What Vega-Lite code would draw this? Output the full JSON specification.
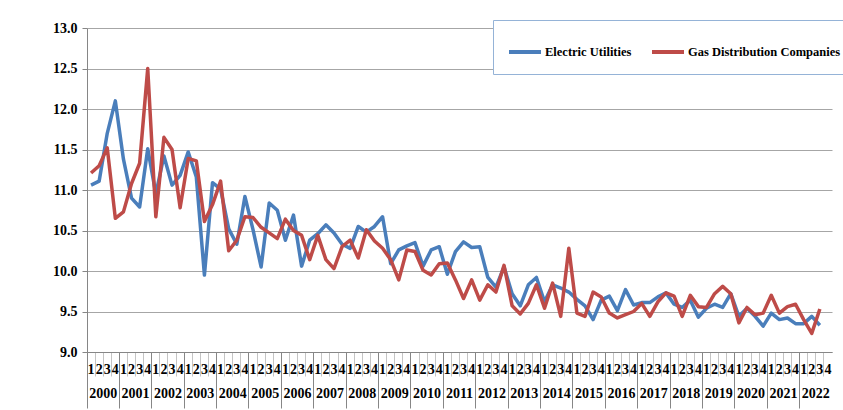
{
  "$schema": "https://vega.github.io/schema/vega-lite/v6.json",
  "width": 745,
  "height": 324,
  "autosize": {"type": "none"},
  "padding": {"left": 87, "top": 28, "right": 11, "bottom": 58},
  "background": "white",
  "config": {"view": {"stroke": null}, "font": "Liberation Serif"},
  "data": {"values": [
    {"k":"2000-1","Electric Utilities":11.06,"Gas Distribution Companies":11.21},
    {"k":"2000-2","Electric Utilities":11.11,"Gas Distribution Companies":11.30},
    {"k":"2000-3","Electric Utilities":11.70,"Gas Distribution Companies":11.52},
    {"k":"2000-4","Electric Utilities":12.10,"Gas Distribution Companies":10.65},
    {"k":"2001-1","Electric Utilities":11.38,"Gas Distribution Companies":10.73},
    {"k":"2001-2","Electric Utilities":10.90,"Gas Distribution Companies":11.08},
    {"k":"2001-3","Electric Utilities":10.79,"Gas Distribution Companies":11.33},
    {"k":"2001-4","Electric Utilities":11.51,"Gas Distribution Companies":12.50},
    {"k":"2002-1","Electric Utilities":10.95,"Gas Distribution Companies":10.67},
    {"k":"2002-2","Electric Utilities":11.42,"Gas Distribution Companies":11.65},
    {"k":"2002-3","Electric Utilities":11.06,"Gas Distribution Companies":11.50},
    {"k":"2002-4","Electric Utilities":11.18,"Gas Distribution Companies":10.78},
    {"k":"2003-1","Electric Utilities":11.47,"Gas Distribution Companies":11.39},
    {"k":"2003-2","Electric Utilities":11.16,"Gas Distribution Companies":11.36},
    {"k":"2003-3","Electric Utilities":9.95,"Gas Distribution Companies":10.61},
    {"k":"2003-4","Electric Utilities":11.09,"Gas Distribution Companies":10.82},
    {"k":"2004-1","Electric Utilities":11.01,"Gas Distribution Companies":11.11},
    {"k":"2004-2","Electric Utilities":10.52,"Gas Distribution Companies":10.25},
    {"k":"2004-3","Electric Utilities":10.33,"Gas Distribution Companies":10.38},
    {"k":"2004-4","Electric Utilities":10.92,"Gas Distribution Companies":10.67},
    {"k":"2005-1","Electric Utilities":10.51,"Gas Distribution Companies":10.66},
    {"k":"2005-2","Electric Utilities":10.05,"Gas Distribution Companies":10.54},
    {"k":"2005-3","Electric Utilities":10.84,"Gas Distribution Companies":10.47},
    {"k":"2005-4","Electric Utilities":10.75,"Gas Distribution Companies":10.40},
    {"k":"2006-1","Electric Utilities":10.38,"Gas Distribution Companies":10.64},
    {"k":"2006-2","Electric Utilities":10.69,"Gas Distribution Companies":10.50},
    {"k":"2006-3","Electric Utilities":10.06,"Gas Distribution Companies":10.44},
    {"k":"2006-4","Electric Utilities":10.38,"Gas Distribution Companies":10.14},
    {"k":"2007-1","Electric Utilities":10.46,"Gas Distribution Companies":10.44},
    {"k":"2007-2","Electric Utilities":10.57,"Gas Distribution Companies":10.14},
    {"k":"2007-3","Electric Utilities":10.47,"Gas Distribution Companies":10.03},
    {"k":"2007-4","Electric Utilities":10.33,"Gas Distribution Companies":10.30},
    {"k":"2008-1","Electric Utilities":10.28,"Gas Distribution Companies":10.38},
    {"k":"2008-2","Electric Utilities":10.55,"Gas Distribution Companies":10.16},
    {"k":"2008-3","Electric Utilities":10.48,"Gas Distribution Companies":10.51},
    {"k":"2008-4","Electric Utilities":10.55,"Gas Distribution Companies":10.37},
    {"k":"2009-1","Electric Utilities":10.67,"Gas Distribution Companies":10.28},
    {"k":"2009-2","Electric Utilities":10.09,"Gas Distribution Companies":10.14},
    {"k":"2009-3","Electric Utilities":10.26,"Gas Distribution Companies":9.89},
    {"k":"2009-4","Electric Utilities":10.31,"Gas Distribution Companies":10.26},
    {"k":"2010-1","Electric Utilities":10.35,"Gas Distribution Companies":10.24},
    {"k":"2010-2","Electric Utilities":10.06,"Gas Distribution Companies":10.01},
    {"k":"2010-3","Electric Utilities":10.26,"Gas Distribution Companies":9.95},
    {"k":"2010-4","Electric Utilities":10.30,"Gas Distribution Companies":10.09},
    {"k":"2011-1","Electric Utilities":9.96,"Gas Distribution Companies":10.10},
    {"k":"2011-2","Electric Utilities":10.24,"Gas Distribution Companies":9.89},
    {"k":"2011-3","Electric Utilities":10.36,"Gas Distribution Companies":9.66},
    {"k":"2011-4","Electric Utilities":10.29,"Gas Distribution Companies":9.89},
    {"k":"2012-1","Electric Utilities":10.30,"Gas Distribution Companies":9.64},
    {"k":"2012-2","Electric Utilities":9.92,"Gas Distribution Companies":9.83},
    {"k":"2012-3","Electric Utilities":9.80,"Gas Distribution Companies":9.74},
    {"k":"2012-4","Electric Utilities":10.05,"Gas Distribution Companies":10.07},
    {"k":"2013-1","Electric Utilities":9.72,"Gas Distribution Companies":9.57},
    {"k":"2013-2","Electric Utilities":9.57,"Gas Distribution Companies":9.47},
    {"k":"2013-3","Electric Utilities":9.83,"Gas Distribution Companies":9.60},
    {"k":"2013-4","Electric Utilities":9.92,"Gas Distribution Companies":9.83},
    {"k":"2014-1","Electric Utilities":9.62,"Gas Distribution Companies":9.54},
    {"k":"2014-2","Electric Utilities":9.83,"Gas Distribution Companies":9.85},
    {"k":"2014-3","Electric Utilities":9.79,"Gas Distribution Companies":9.44},
    {"k":"2014-4","Electric Utilities":9.74,"Gas Distribution Companies":10.28},
    {"k":"2015-1","Electric Utilities":9.65,"Gas Distribution Companies":9.48},
    {"k":"2015-2","Electric Utilities":9.57,"Gas Distribution Companies":9.44},
    {"k":"2015-3","Electric Utilities":9.40,"Gas Distribution Companies":9.74},
    {"k":"2015-4","Electric Utilities":9.64,"Gas Distribution Companies":9.68},
    {"k":"2016-1","Electric Utilities":9.69,"Gas Distribution Companies":9.48},
    {"k":"2016-2","Electric Utilities":9.51,"Gas Distribution Companies":9.42},
    {"k":"2016-3","Electric Utilities":9.77,"Gas Distribution Companies":9.46},
    {"k":"2016-4","Electric Utilities":9.58,"Gas Distribution Companies":9.50},
    {"k":"2017-1","Electric Utilities":9.61,"Gas Distribution Companies":9.60},
    {"k":"2017-2","Electric Utilities":9.61,"Gas Distribution Companies":9.44},
    {"k":"2017-3","Electric Utilities":9.68,"Gas Distribution Companies":9.62},
    {"k":"2017-4","Electric Utilities":9.73,"Gas Distribution Companies":9.73},
    {"k":"2018-1","Electric Utilities":9.59,"Gas Distribution Companies":9.69},
    {"k":"2018-2","Electric Utilities":9.55,"Gas Distribution Companies":9.44},
    {"k":"2018-3","Electric Utilities":9.64,"Gas Distribution Companies":9.70},
    {"k":"2018-4","Electric Utilities":9.43,"Gas Distribution Companies":9.56},
    {"k":"2019-1","Electric Utilities":9.54,"Gas Distribution Companies":9.55},
    {"k":"2019-2","Electric Utilities":9.59,"Gas Distribution Companies":9.72},
    {"k":"2019-3","Electric Utilities":9.55,"Gas Distribution Companies":9.81},
    {"k":"2019-4","Electric Utilities":9.72,"Gas Distribution Companies":9.72},
    {"k":"2020-1","Electric Utilities":9.44,"Gas Distribution Companies":9.36},
    {"k":"2020-2","Electric Utilities":9.54,"Gas Distribution Companies":9.55},
    {"k":"2020-3","Electric Utilities":9.44,"Gas Distribution Companies":9.46},
    {"k":"2020-4","Electric Utilities":9.32,"Gas Distribution Companies":9.48},
    {"k":"2021-1","Electric Utilities":9.48,"Gas Distribution Companies":9.70},
    {"k":"2021-2","Electric Utilities":9.40,"Gas Distribution Companies":9.48},
    {"k":"2021-3","Electric Utilities":9.42,"Gas Distribution Companies":9.56},
    {"k":"2021-4","Electric Utilities":9.35,"Gas Distribution Companies":9.59},
    {"k":"2022-1","Electric Utilities":9.35,"Gas Distribution Companies":9.40},
    {"k":"2022-2","Electric Utilities":9.44,"Gas Distribution Companies":9.23},
    {"k":"2022-3","Electric Utilities":9.33,"Gas Distribution Companies":9.53},
    {"k":"2022-4"}
  ]},
  "layer": [
    {
      "transform": [{"fold": ["Electric Utilities", "Gas Distribution Companies"], "as": ["series", "value"]}],
      "mark": {"type": "line", "strokeWidth": 3.5, "strokeJoin": "round"},
      "encoding": {
        "x": {
          "field": "k", "type": "ordinal",
          "scale": {"type": "band", "paddingInner": 0, "paddingOuter": 0},
          "axis": {
            "title": null,
            "labelExpr": "substring(datum.value, 5)",
            "labelAngle": 0,
            "labelOverlap": false,
            "bandPosition": 0,
            "tickSize": 24,
            "tickColor": "#c4c4c4",
            "labelPadding": -14,
            "labelBaseline": "top",
            "labelFont": "Liberation Serif",
            "labelFontWeight": "bold",
            "labelFontSize": 14,
            "labelColor": "black",
            "domainColor": "#868686",
            "grid": false
          }
        },
        "y": {
          "field": "value", "type": "quantitative",
          "scale": {"domain": [9, 13]},
          "axis": {
            "title": null,
            "values": [9, 9.5, 10, 10.5, 11, 11.5, 12, 12.5, 13],
            "format": ".1f",
            "labelFont": "Liberation Serif",
            "labelFontWeight": "bold",
            "labelFontSize": 14,
            "labelColor": "black",
            "labelPadding": 5,
            "tickSize": 5,
            "tickColor": "#868686",
            "domainColor": "#868686",
            "gridColor": "#a6a6a6"
          }
        },
        "color": {
          "field": "series", "type": "nominal",
          "scale": {"range": ["#4A7EBB", "#BE4B48"]},
          "legend": {
            "title": null,
            "orient": "none",
            "legendX": 406,
            "legendY": -8,
            "direction": "horizontal",
            "symbolType": "stroke",
            "symbolSize": 1024,
            "symbolStrokeWidth": 4,
            "labelFont": "Liberation Serif",
            "labelFontWeight": "bold",
            "labelFontSize": 12.5,
            "labelColor": "black",
            "labelOffset": 2,
            "labelLimit": 300,
            "columnPadding": 12,
            "padding": 14,
            "strokeColor": "#95B3D7",
            "fillColor": "white"
          }
        }
      }
    },
    {
      "mark": {"type": "point", "opacity": 0},
      "encoding": {
        "x": {
          "field": "k", "type": "ordinal",
          "scale": {"type": "band", "paddingInner": 0, "paddingOuter": 0},
          "axis": {
            "title": null,
            "orient": "bottom",
            "labelExpr": "substring(datum.value, 5) == '2' ? substring(datum.value, 0, 4) : ''",
            "labelAngle": 0,
            "labelOverlap": false,
            "bandPosition": 0,
            "labelOffset": 4.05,
            "labelBaseline": "top",
            "labelPadding": -22,
            "labelFont": "Liberation Serif",
            "labelFontWeight": "bold",
            "labelFontSize": 14,
            "labelColor": "black",
            "tickSize": 56,
            "tickColor": "#868686",
            "tickOpacity": {"condition": {"test": "substring(datum.value, 5) == '1'", "value": 1}, "value": 0},
            "domain": false,
            "grid": false
          }
        }
      }
    }
  ],
  "resolve": {"axis": {"x": "independent"}}
}
